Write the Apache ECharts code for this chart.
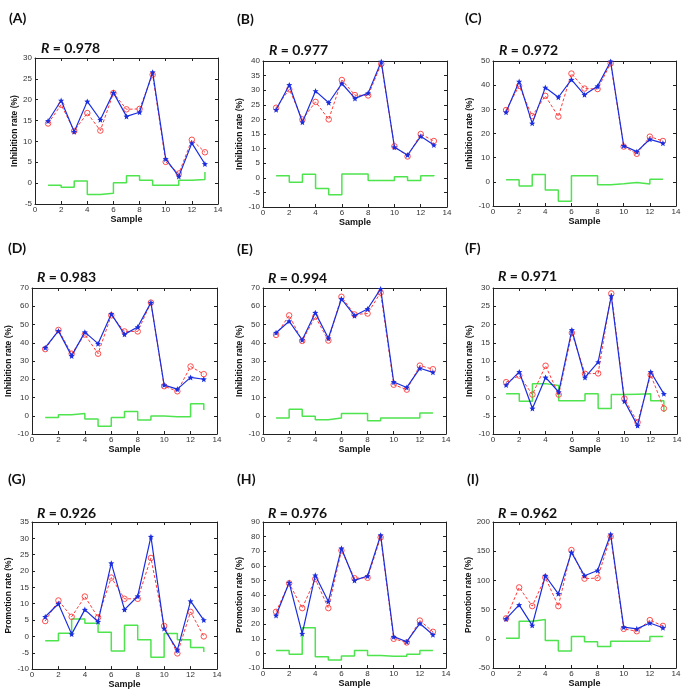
<!DOCTYPE html>
<html><head><meta charset="utf-8">
<script src="https://cdn.jsdelivr.net/npm/echarts@6/dist/echarts.min.js"></script>
<style>html,body{margin:0;padding:0;background:#fff}#c{width:685px;height:690px}</style>
</head><body><div id="c"></div>
<script>
// ---- data ----
const samples = [1,2,3,4,5,6,7,8,9,10,11,12,13];
const panelLabels = ['(A)','(B)','(C)','(D)','(E)','(F)','(G)','(H)','(I)'];
const rValues = ['0.978','0.977','0.972','0.983','0.994','0.971','0.926','0.976','0.962'];
const yNames = ['Inhibition rate (%)','Inhibition rate (%)','Inhibition rate (%)','Inhibition rate (%)','Inhibition rate (%)','Inhibition rate (%)','Promotion rate (%)','Promotion rate (%)','Promotion rate (%)'];
const xName = 'Sample';
const xTicks = {min:0, max:14, interval:2};
const yMin = [-5,-10,-10,-10,-10,-10,-10,-10,-50];
const yMax = [30,40,50,70,70,30,35,90,200];
const yInterval = [5,5,10,10,10,5,5,10,50];

const blueA = [14.9, 19.8, 12.3, 19.6, 15.2, 21.7, 16.0, 17.0, 26.6, 5.8, 1.6, 9.6, 4.6];
const redA  = [14.3, 18.8, 12.5, 16.8, 12.6, 21.6, 17.7, 17.8, 26.0, 5.1, 2.3, 10.4, 7.4];
const greenA= [-0.5, -1.0, 0.5, -2.7, -2.4, 0.1, 1.8, 0.7, -0.5, -0.5, 0.7, 0.9, 2.7];

const blueB = [23.3, 31.8, 19.0, 29.7, 25.7, 32.3, 27.2, 29.0, 39.8, 10.5, 7.8, 14.2, 11.2];
const redB  = [24.0, 30.3, 20.0, 26.0, 20.0, 33.5, 28.3, 28.2, 39.0, 10.8, 7.3, 15.0, 12.6];
const greenB= [0.7, -1.5, 1.2, -3.7, -5.8, 1.3, 1.3, -0.9, -0.9, 0.4, -0.9, 0.7, 1.0];

const blueC = [28.8, 41.5, 24.2, 39.0, 35.0, 42.3, 36.0, 39.6, 49.8, 14.9, 12.5, 17.6, 16.0];
const redC  = [29.7, 39.7, 27.2, 35.6, 27.0, 44.8, 38.6, 38.4, 49.0, 14.6, 11.6, 18.7, 16.9];
const greenC= [0.9, -1.7, 3.0, -3.4, -8.0, 2.5, 2.5, -1.2, -0.8, -0.3, -0.9, 1.1, 0.9];

const blueD = [37.3, 46.5, 32.8, 45.8, 39.5, 55.8, 44.6, 48.6, 62.0, 16.8, 14.6, 21.0, 20.0];
const redD  = [36.5, 47.0, 34.0, 44.5, 34.0, 55.0, 46.2, 46.2, 62.0, 16.2, 13.4, 27.0, 22.8];
const greenD= [-0.9, 0.5, 1.2, -1.8, -5.8, -0.9, 2.3, -2.3, -0.2, -0.6, -0.6, 6.6, 3.2];

const blueE = [45.5, 51.8, 41.5, 56.5, 42.5, 64.0, 54.8, 58.5, 69.5, 18.5, 15.5, 26.0, 23.8];
const redE  = [44.3, 55.0, 41.0, 54.3, 41.2, 65.2, 55.5, 56.0, 67.5, 17.0, 14.3, 27.5, 25.5];
const greenE= [-1.2, 3.5, -0.3, -2.2, -1.2, 1.3, 1.3, -2.7, -1.3, -1.3, -1.3, 1.5, 1.5];

const blueF = [3.4, 7.0, -3.0, 5.5, 1.5, 18.5, 5.5, 9.7, 27.8, -1.0, -7.7, 7.0, 1.0];
const redF  = [4.2, 6.0, 0.8, 8.7, 0.8, 17.7, 6.5, 6.6, 28.5, -0.3, -6.8, 6.2, -3.0];
const greenF= [1.0, -1.0, 3.8, 3.3, -0.9, -0.9, 1.0, -3.0, 0.8, 0.9, 1.0, -0.9, -4.0];

const blueG = [6.0, 10.0, 0.7, 8.2, 4.5, 22.4, 8.2, 12.3, 30.5, 2.4, -4.2, 10.8, 5.0];
const redG  = [4.7, 11.0, 6.0, 12.2, 5.8, 18.0, 11.5, 11.5, 24.0, 3.2, -5.2, 7.5, 0.0];
const greenG= [-1.3, 1.0, 5.3, 4.0, 1.3, -4.5, 3.4, -1.0, -6.4, 0.9, -1.0, -3.4, -4.8];

const blueH = [26.0, 48.5, 13.5, 53.5, 35.5, 72.0, 50.0, 53.0, 81.0, 11.5, 8.0, 20.5, 12.8];
const redH  = [28.5, 48.0, 31.0, 51.0, 31.0, 70.5, 51.5, 51.8, 79.5, 10.0, 7.5, 22.5, 14.8];
const greenH= [2.0, -0.5, 17.5, -2.3, -4.5, -1.7, 2.0, -1.5, -2.0, -2.0, -0.5, 2.0, 2.0];

const blueI = [34, 58, 23, 108, 77, 148, 108, 117, 179, 20, 17, 27, 19];
const redI  = [35, 88, 56, 105, 56, 152, 103, 104, 175, 17, 13, 32, 22];
const greenI= [1, 30, 33, -3, -21, 4, -5, -13, -4, -4, -4, 4, 4];

const blues = [blueA, blueB, blueC, blueD, blueE, blueF, blueG, blueH, blueI];
const reds = [redA, redB, redC, redD, redE, redF, redG, redH, redI];
const greens = [greenA, greenB, greenC, greenD, greenE, greenF, greenG, greenH, greenI];

// ---- layout (pixels) ----
const grids = [
  {l:35, t:58, r:218, b:204}, {l:263, t:61, r:447, b:207}, {l:493, t:61, r:676, b:206},
  {l:32, t:288, r:217, b:434}, {l:263, t:288, r:446, b:434}, {l:493, t:288, r:677, b:434},
  {l:32, t:522, r:217, b:670}, {l:263, t:522, r:446, b:668}, {l:493, t:522, r:676, b:668}
];
const yNameGap = [13, 14.5, 16.5, 13, 15, 15.5, 14.5, 15.5, 18];
const labelPos = [[4,6],[232,7],[460,6],[3,236],[232,237],[460,236],[3,467],[232,467],[462,467]];
const rPos = [[36,36],[264,38],[494,38],[32,265],[263,266],[493,264],[32,501],[263,501],[493,501]];

const star = 'path://M0,-10 L2.6,-3.6 9.5,-3.1 4.2,1.4 5.9,8.1 0,4.4 -5.9,8.1 -4.2,1.4 -9.5,-3.1 -2.6,-3.6Z';
const mk = arr => samples.map((x,k)=>[x, arr[k]]);

const option = {
  animation:false,
  backgroundColor:'#fff',
  title:[], grid:[], xAxis:[], yAxis:[], series:[]
};
const axisCol = '#222';
for (let i=0;i<9;i++){
  const g = grids[i];
  option.grid.push({left:g.l, top:g.t, width:g.r-g.l, height:g.b-g.t, show:false});
  option.title.push({text:panelLabels[i], left:labelPos[i][0], top:labelPos[i][1],
    textStyle:{fontFamily:'Lato', fontWeight:'bold', fontSize:14, color:'#111'}});
  option.title.push({text:'{it|R} = '+rValues[i], left:rPos[i][0], top:rPos[i][1],
    textStyle:{fontFamily:'Lato', fontWeight:'bold', fontSize:14, color:'#111',
      rich:{it:{fontFamily:'Lato', fontStyle:'italic', fontWeight:'bold', fontSize:14, color:'#111'}}}});
  const common = {gridIndex:i, type:'value', splitLine:{show:false},
    axisLine:{show:true, onZero:false, lineStyle:{color:axisCol, width:1}},
    axisTick:{show:true, inside:true, length:3, lineStyle:{color:axisCol}}};
  option.xAxis.push(Object.assign({}, common, {min:xTicks.min, max:xTicks.max, interval:xTicks.interval, position:'bottom',
    axisLabel:{fontSize:8, color:'#333', margin:2, fontFamily:'Liberation Sans'},
    name:xName, nameLocation:'middle', nameGap:10,
    nameTextStyle:{fontFamily:'Liberation Sans', fontWeight:'bold', fontSize:9, color:'#111'}}));
  option.xAxis.push(Object.assign({}, common, {min:xTicks.min, max:xTicks.max, interval:xTicks.interval, position:'top',
    axisLabel:{show:false}}));
  option.yAxis.push(Object.assign({}, common, {min:yMin[i], max:yMax[i], interval:yInterval[i], position:'left',
    axisLabel:{fontSize:8, color:'#333', margin:3, fontFamily:'Liberation Sans'},
    name:yNames[i], nameLocation:'middle', nameGap:yNameGap[i],
    nameTextStyle:{fontFamily:'Liberation Sans', fontWeight:'bold', fontSize:8.5, color:'#111'}}));
  option.yAxis.push(Object.assign({}, common, {min:yMin[i], max:yMax[i], interval:yInterval[i], position:'right',
    axisLabel:{show:false}}));
  option.series.push({type:'line', xAxisIndex:2*i, yAxisIndex:2*i, data:mk(greens[i]), step:'end',
    symbol:'none', lineStyle:{color:'#4ee44e', width:1.5}, z:2});
  option.series.push({type:'line', xAxisIndex:2*i, yAxisIndex:2*i, data:mk(reds[i]),
    symbol:'circle', symbolSize:5.5, itemStyle:{color:'rgba(255,255,255,0)', borderColor:'#ff3a3a', borderWidth:0.9},
    lineStyle:{color:'#ff3a3a', width:1, type:[3,2]}, z:3});
  option.series.push({type:'line', xAxisIndex:2*i, yAxisIndex:2*i, data:mk(blues[i]),
    symbol:star, symbolSize:6, itemStyle:{color:'#1a2ee0'},
    lineStyle:{color:'#1a2ee0', width:1.2}, z:4});
}
const chart = echarts.init(document.getElementById('c'), null, {renderer:'canvas'});
chart.setOption(option);
</script></body></html>
